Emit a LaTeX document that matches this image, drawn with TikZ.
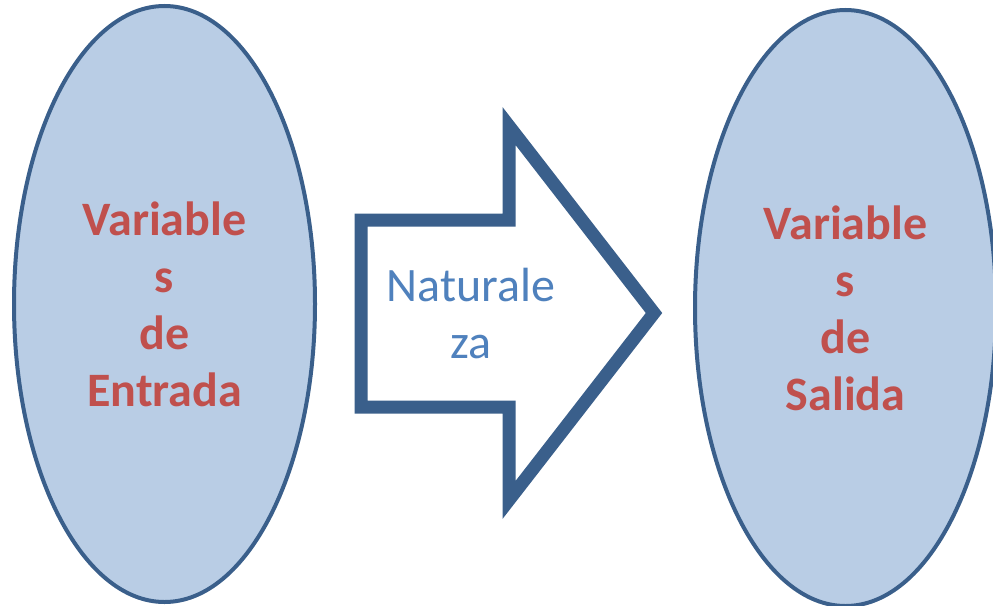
\documentclass[tikz,border=0pt]{standalone}
\usepackage{fontspec}
\setmainfont{Carlito}
\usepackage{xcolor}
\usetikzlibrary{shapes.geometric}

\definecolor{varfill}{HTML}{B9CDE5}
\definecolor{varline}{HTML}{3A5F8B}
\definecolor{vartext}{HTML}{C0504D}
\definecolor{flowtext}{HTML}{4F81BD}

\tikzset{
  varnode/.style={shape=ellipse, draw=varline, fill=varfill, line width=4pt,
    minimum width=301pt, minimum height=596pt, inner sep=0pt, align=center,
    text=vartext, font=\fontsize{48}{57}\selectfont\bfseries},
  flowarrow/.style={draw=varline, fill=white, line width=13pt, miter limit=10},
  flowlabel/.style={align=center, text=flowtext, font=\fontsize{48}{57}\selectfont}
}

\begin{document}
\begin{tikzpicture}[x=1pt, y=-1pt]
        \useasboundingbox (0,0) rectangle (993,605);

        \node[varnode] (A) at (164.5, 304) {Variable\\s\\de\\Entrada};
        \node[varnode] (B) at (845.5, 308) {Variable\\s\\de\\Salida};

        \draw[flowarrow] (361,220) -- (509,220) -- (509,126) -- (654,313)
            -- (509,500) -- (509,407) -- (361,407) -- cycle;
        \node[flowlabel] (N) at (471, 314) {Naturale\\za};
    \end{tikzpicture}
\end{document}
